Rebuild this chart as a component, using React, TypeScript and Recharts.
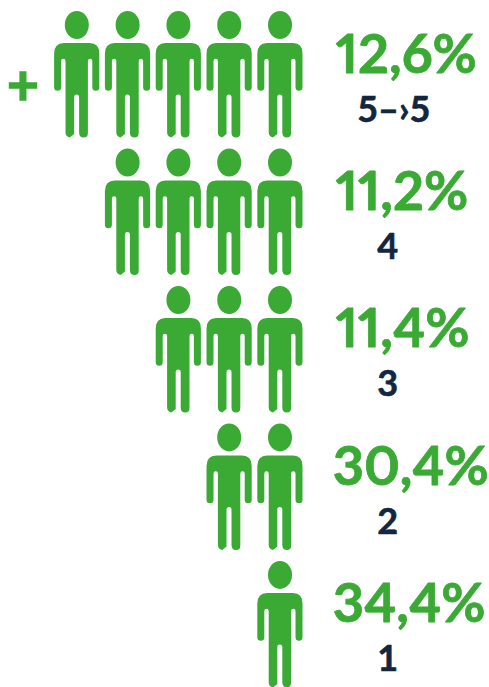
import React from 'react';
import { ScatterChart, Scatter, XAxis, YAxis } from 'recharts';

const ranks = [5, 4, 3, 2, 1];
const shares = ['12,6%', '11,2%', '11,4%', '30,4%', '34,4%'];
const rowLabels = ['5–›5', '4', '3', '2', '1'];
const prefixLabel = '+';

const GREEN = '#3aaa35';
const NAVY = '#12263f';
const FONT = 'Lato, "Open Sans", sans-serif';

const people = ranks.flatMap((rank) =>
  Array.from({ length: rank }, (_, i) => ({ slot: i + 1, rank })),
);
const labels = ranks.map((rank, i) => ({ slot: 0, rank, share: shares[i], sub: rowLabels[i] }));
const prefix = [{ slot: 6.06, rank: 5, text: prefixLabel }];

const BODY =
  'M-13,-31.5 H13 Q22.5,-31.5 22.5,-21 V12.7 a3.5,3.5 0 0 1 -7,0 V-13.5 a2.2,2.2 0 0 0 -4.4,0 ' +
  'V58 Q11.3,63 6.8,63 Q2.3,63 2.3,58 V22.5 a2.5,2.5 0 0 0 -5,0 V59.5 L-7,63 Q-11.3,62 -11.3,58 ' +
  'V-13.5 a2.2,2.2 0 0 0 -4.4,0 V12.7 a3.5,3.5 0 0 1 -7,0 V-21 Q-22.5,-31.5 -13,-31.5 Z';

const Person = ({ cx, cy }: any) => (
  <g transform={`translate(${cx},${cy})`} fill={GREEN}>
    <ellipse cx={0} cy={-49.5} rx={12} ry={14} />
    <path d={BODY} />
  </g>
);

const RowLabel = ({ cx, cy, payload }: any) => (
  <g fontFamily={FONT} fontWeight={700}>
    <text
      x={cx + (payload.share.startsWith('1') ? 5 : 2)}
      y={cy - 2}
      fontSize={54}
      fill={GREEN}
      stroke={GREEN}
      strokeWidth={0.8}
      strokeLinejoin="round"
      style={{ fontFeatureSettings: '"pnum" 1' }}
    >
      {payload.share}
    </text>
    <text
      x={cx + (payload.sub.length > 1 ? 63 : 57)}
      y={cy + 47}
      fontSize={36}
      fill={NAVY}
      textAnchor="middle"
      stroke={NAVY}
      strokeWidth={0.6}
      strokeLinejoin="round"
    >
      {payload.sub}
    </text>
  </g>
);

const Prefix = ({ cx, cy, payload }: any) => (
  <text
    x={cx}
    y={cy + 30.5}
    fontSize={55}
    fontFamily={FONT}
    fontWeight={700}
    fill={GREEN}
    stroke={GREEN}
    strokeWidth={1.5}
    textAnchor="middle"
  >
    {payload.text}
  </text>
);

export default function App() {
  return (
    <div style={{ position: 'absolute', left: 0, top: 0 }}>
      <ScatterChart width={489} height={687} margin={{ top: 0, right: 0, bottom: 0, left: 0 }}>
        <XAxis type="number" dataKey="slot" hide reversed domain={[-3.114, 6.512]} allowDataOverflow />
        <YAxis type="number" dataKey="rank" hide domain={[0.545, 5.542]} allowDataOverflow />
        <Scatter data={people} shape={Person} isAnimationActive={false} />
        <Scatter data={labels} shape={RowLabel} isAnimationActive={false} />
        <Scatter data={prefix} shape={Prefix} isAnimationActive={false} />
      </ScatterChart>
    </div>
  );
}
